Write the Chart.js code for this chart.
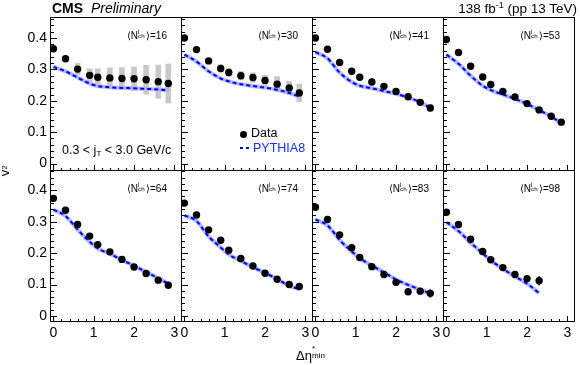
<!DOCTYPE html>
<html>
<head>
<meta charset="utf-8">
<script src="https://cdn.jsdelivr.net/npm/chart.js@4.4.0/dist/chart.umd.min.js"></script>
<style>
    html, body { margin: 0; padding: 0; background: #fff; }
    #fig { position: relative; width: 580px; height: 365px; overflow: hidden;
           font-family: "Liberation Sans", Arial, sans-serif; color: #000; }
    #fig canvas { position: absolute; left: 0; top: 0; }
    .txt { position: absolute; white-space: nowrap; line-height: 1; }
    .stk { position: relative; display: inline-block; height: 1em; }
    .stk .up, .stk .dn { position: absolute; left: 0; font-size: 0.62em; line-height: 1; }
    .stk .up { top: -0.2em; }
    .stk .dn { top: 0.62em; }
    .nlab { font-size: 10px; }
    .nlab .stk { width: 8px; }
    .dot { position: absolute; width: 7px; height: 7px; border-radius: 50%; background: #000; }
    .dash { position: absolute; width: 10px; height: 2px;
            background: repeating-linear-gradient(to right, #0000ff 0 3px, transparent 3px 6px); }
</style>
</head>
<body>
<div id="fig">
    <div class="txt" style="left:52px; top:1px; font-size:14px;"><b>CMS</b>&nbsp; <i>Preliminary</i></div>
    <div class="txt" style="right:3px; top:1px; font-size:13.5px;">138 fb<sup style="font-size:9px; vertical-align:5px;">-1</sup> (pp 13 TeV)</div>
    <div class="txt" style="left:62px; top:144px; font-size:12.5px;">0.3 &lt; j<sub style="font-size:8px; vertical-align:-2px;">T</sub> &lt; 3.0 GeV/c</div>
    <div class="dot" style="left:240px; top:131px;"></div>
    <div class="txt" style="left:251px; top:127px; font-size:12.5px;">Data</div>
    <div class="dash" style="left:240px; top:147px;"></div>
    <div class="txt" style="left:253px; top:142px; font-size:12.5px; color:#1030ff;">PYTHIA8</div>
    <div class="txt" style="left:296px; top:347px; font-size:13px;">&Delta;&eta;<span class="stk" style="width:20px;"><span class="up">*</span><span class="dn">min</span></span></div>
    <div class="txt" style="left:-3px; top:162px; font-size:13px; transform:rotate(-90deg);">v<span class="stk" style="width:7px;"><span class="up">*</span><span class="dn">2</span></span></div>
</div>
<script>
// eta gap values (x) shared by all multiplicity bins
const etaMin = [0, 0.3, 0.6, 0.9, 1.1, 1.4, 1.7, 2.0, 2.3, 2.6, 2.85];
const nchBins = ['16', '30', '41', '53', '64', '74', '83', '98'];

// v2* data, systematic half-widths, PYTHIA8 curve
const v2N16 = [0.366, 0.334, 0.301, 0.281, 0.275, 0.273, 0.271, 0.270, 0.267, 0.261, 0.255];
const sysN16 = [0.005, 0.008, 0.018, 0.021, 0.027, 0.032, 0.035, 0.038, 0.046, 0.053, 0.062];
const pythiaN16 = [0.308, 0.294, 0.274, 0.255, 0.247, 0.243, 0.241, 0.240, 0.238, 0.236, 0.234];

const v2N30 = [0.400, 0.363, 0.327, 0.303, 0.290, 0.280, 0.274, 0.265, 0.253, 0.241, 0.225];
const sysN30 = [0.004, 0.005, 0.007, 0.012, 0.013, 0.014, 0.015, 0.016, 0.024, 0.021, 0.028];
const pythiaN30 = [0.347, 0.325, 0.294, 0.271, 0.262, 0.253, 0.247, 0.242, 0.235, 0.225, 0.213];

const v2N41 = [0.400, 0.364, 0.322, 0.294, 0.275, 0.260, 0.246, 0.230, 0.213, 0.195, 0.177];
const sysN41 = [0.003, 0.004, 0.005, 0.006, 0.006, 0.006, 0.007, 0.008, 0.008, 0.009, 0.010];
const pythiaN41 = [0.355, 0.335, 0.290, 0.260, 0.248, 0.240, 0.231, 0.222, 0.210, 0.196, 0.177];

const v2N53 = [0.395, 0.354, 0.310, 0.276, 0.252, 0.230, 0.212, 0.191, 0.171, 0.151, 0.132];
const sysN53 = [0.004, 0.003, 0.004, 0.004, 0.004, 0.004, 0.005, 0.005, 0.005, 0.006, 0.006];
const pythiaN53 = [0.347, 0.318, 0.280, 0.248, 0.234, 0.220, 0.206, 0.190, 0.170, 0.150, 0.128];

const v2N64 = [0.374, 0.336, 0.291, 0.254, 0.227, 0.204, 0.180, 0.156, 0.135, 0.114, 0.098];
const sysN64 = [0.003, 0.003, 0.004, 0.004, 0.004, 0.004, 0.004, 0.004, 0.004, 0.004, 0.004];
const pythiaN64 = [0.338, 0.318, 0.275, 0.236, 0.215, 0.198, 0.178, 0.160, 0.140, 0.120, 0.103];

const v2N74 = [0.359, 0.321, 0.274, 0.241, 0.209, 0.183, 0.159, 0.136, 0.117, 0.100, 0.094];
const sysN74 = [0.003, 0.003, 0.003, 0.003, 0.003, 0.003, 0.004, 0.004, 0.004, 0.004, 0.005];
const pythiaN74 = [0.320, 0.302, 0.253, 0.218, 0.196, 0.175, 0.155, 0.137, 0.118, 0.096, 0.086];

const v2N83 = [0.346, 0.307, 0.258, 0.217, 0.186, 0.157, 0.132, 0.107, 0.077, 0.079, 0.072];
const sysN83 = [0.003, 0.003, 0.003, 0.003, 0.003, 0.003, 0.004, 0.004, 0.005, 0.005, 0.006];
const statN83 = [0, 0, 0, 0, 0, 0, 0, 0, 0.006, 0.006, 0.012];
const pythiaN83 = [0.307, 0.288, 0.242, 0.205, 0.184, 0.160, 0.139, 0.116, 0.099, 0.084, 0.072];

const v2N98 = [0.330, 0.291, 0.244, 0.205, 0.179, 0.154, 0.132, 0.119, 0.112];
const sysN98 = [0.003, 0.003, 0.003, 0.003, 0.003, 0.004, 0.004, 0.005, 0.006];
const statN98 = [0, 0, 0, 0, 0, 0, 0, 0.005, 0.013];
const pythiaN98 = [0.298, 0.270, 0.233, 0.199, 0.177, 0.150, 0.126, 0.103, 0.073];

// axes
const xTickLabels = [0, 1, 2, 3];
const yTickLabels = [0, 0.1, 0.2, 0.3, 0.4];
const xRange = [-0.06, 3.19];
const yRangeTop = [-0.0236, 0.4637];
const yRangeBottom = [-0.019, 0.461];

const panels = [
    {nch: nchBins[0], v2: v2N16, sys: sysN16, stat: [], pythia: pythiaN16},
    {nch: nchBins[1], v2: v2N30, sys: sysN30, stat: [], pythia: pythiaN30},
    {nch: nchBins[2], v2: v2N41, sys: sysN41, stat: [], pythia: pythiaN41},
    {nch: nchBins[3], v2: v2N53, sys: sysN53, stat: [], pythia: pythiaN53},
    {nch: nchBins[4], v2: v2N64, sys: sysN64, stat: [], pythia: pythiaN64},
    {nch: nchBins[5], v2: v2N74, sys: sysN74, stat: [], pythia: pythiaN74},
    {nch: nchBins[6], v2: v2N83, sys: sysN83, stat: statN83, pythia: pythiaN83},
    {nch: nchBins[7], v2: v2N98, sys: sysN98, stat: statN98, pythia: pythiaN98},
];

Chart.defaults.font.family = '"Liberation Sans", Arial, sans-serif';

// ROOT-like frame with inward ticks on the left and bottom
const frameTicks = {
    id: 'frameTicks',
    afterDatasetsDraw(chart) {
        const {ctx, chartArea: a, scales: {x, y}} = chart;
        ctx.save();
        ctx.strokeStyle = '#000';
        ctx.lineWidth = 1;
        ctx.beginPath();
        for (let i = 0; i <= 15; i++) {
            const px = Math.round(x.getPixelForValue(i * 0.2)) + 0.5;
            if (px > a.right) break;
            const len = i % 5 === 0 ? 6 : 3;
            ctx.moveTo(px, a.bottom);
            ctx.lineTo(px, a.bottom - len);
        }
        for (let i = 0; i <= 23; i++) {
            const py = Math.round(y.getPixelForValue(i * 0.02)) + 0.5;
            if (py < a.top) break;
            const len = i % 5 === 0 ? 6 : 3;
            ctx.moveTo(a.left, py);
            ctx.lineTo(a.left + len, py);
        }
        ctx.stroke();
        ctx.strokeRect(a.left - 0.5, a.top - 0.5, a.width, a.height);
        ctx.restore();
    }
};

function pts(ys) {
    return ys.map((v, i) => ({x: etaMin[i], y: v}));
}

function bars(ys, errs) {
    return errs.map((e, i) => ({x: etaMin[i], y: [ys[i] - e, ys[i] + e]}));
}

const fig = document.getElementById('fig');

panels.forEach((p, k) => {
    const row = Math.floor(k / 4);
    const col = k % 4;
    const left = 51 + 131 * col;
    const top = row === 0 ? 18 : 171;
    const w = 131;
    const h = row === 0 ? 153 : 151;
    const yRange = row === 0 ? yRangeTop : yRangeBottom;
    // axes that carry labels keep a fixed size, the others collapse to zero
    const yAxisW = col === 0 ? left : 0;
    const xAxisH = row === 1 ? 22 : 0;

    const canvas = document.createElement('canvas');
    canvas.width = 580;
    canvas.height = 365;
    fig.insertBefore(canvas, fig.firstChild);

    new Chart(canvas.getContext('2d'), {
        type: 'scatter',
        data: {
            datasets: [
                {type: 'scatter', data: pts(p.v2), pointRadius: 3.7, pointBackgroundColor: '#000',
                 pointBorderWidth: 0, order: 0},
                {type: 'line', data: pts(p.pythia), borderColor: '#0000ff', borderWidth: 2,
                 borderDash: [4, 3], pointRadius: 0, fill: false, cubicInterpolationMode: 'monotone', order: 1},
                {type: 'line', data: pts(p.pythia), borderColor: '#b0b8ff', borderWidth: 4,
                 pointRadius: 0, fill: false, cubicInterpolationMode: 'monotone', order: 2},
                {type: 'bar', data: bars(p.v2, p.stat), backgroundColor: '#000', barThickness: 1,
                 grouped: false, borderWidth: 0, order: 3},
                {type: 'bar', data: bars(p.v2, p.sys), backgroundColor: '#c8c8c8', barThickness: 5,
                 grouped: false, borderWidth: 0, order: 4},
            ]
        },
        options: {
            responsive: false,
            animation: false,
            events: [],
            layout: {padding: {left: left - yAxisW, top: top, right: 580 - left - w, bottom: 365 - top - h - xAxisH}},
            plugins: {legend: {display: false}, tooltip: {enabled: false}},
            scales: {
                x: {
                    type: 'linear', min: xRange[0], max: xRange[1], offset: false,
                    grid: {display: false, drawTicks: false, offset: false}, border: {display: false},
                    afterBuildTicks: s => { s.ticks = xTickLabels.map(v => ({value: v})); },
                    afterFit: s => { s.height = xAxisH; },
                    ticks: {display: row === 1, padding: 3, color: '#000', font: {size: 14},
                            autoSkip: false, maxRotation: 0, callback: v => String(v)}
                },
                y: {
                    type: 'linear', min: yRange[0], max: yRange[1],
                    grid: {display: false, drawTicks: false}, border: {display: false},
                    afterBuildTicks: s => { s.ticks = yTickLabels.map(v => ({value: v})); },
                    afterFit: s => { s.width = yAxisW; },
                    ticks: {display: col === 0, padding: 4, color: '#000', font: {size: 14},
                            callback: v => v === 0 ? '0' : v.toFixed(1)}
                }
            }
        },
        plugins: [frameTicks]
    });

    // multiplicity label in the top right corner of the panel
    const lab = document.createElement('div');
    lab.className = 'txt nlab';
    lab.style.right = (580 - left - w + 15) + 'px';
    lab.style.top = (top + 11) + 'px';
    lab.innerHTML = '\u27E8N<span class="stk"><span class="up">j</span><span class="dn">ch</span></span>\u27E9=' + p.nch;
    fig.appendChild(lab);
});
</script>
</body>
</html>
